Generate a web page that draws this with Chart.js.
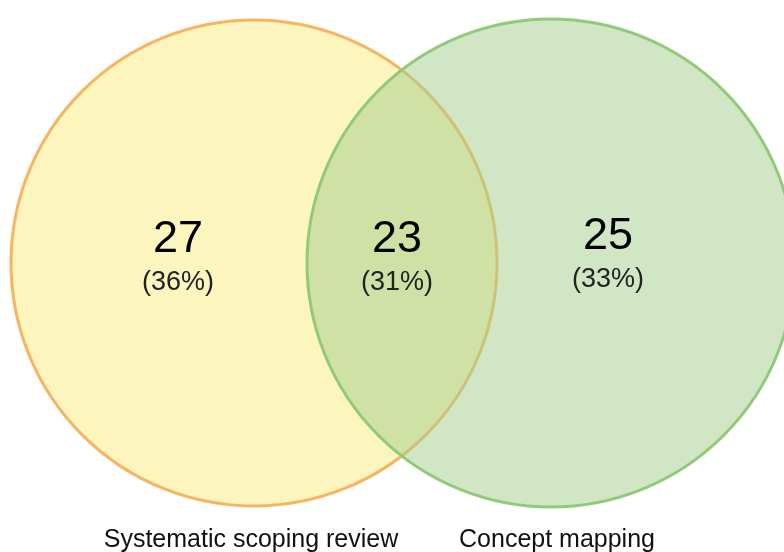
<!DOCTYPE html>
<html>
<head>
<meta charset="utf-8">
<title>Venn</title>
<script src="https://cdn.jsdelivr.net/npm/chart.js@4"></script>
<style>
  html, body { margin: 0; padding: 0; background: #fff; }
  #wrap { width: 784px; height: 552px; position: relative; }
</style>
</head>
<body>
<div id="wrap"><canvas id="venn"></canvas></div>
<script>
// data
const setNames = ['Systematic scoping review', 'Concept mapping'];
const regionCounts = [27, 23, 25];          // left only, both, right only
const regionPercents = ['(36%)', '(31%)', '(33%)'];

// layout (pixel-like units on hidden linear axes)
const circleX = [254, 551];
const circleY = [263, 263];
const circleR = [243, 244];
const regionX = [178, 397, 608];
const regionY = [240, 240, 237];
const nameX = [251, 557];
const nameY = 540;

const vennText = {
  id: 'vennText',
  afterDatasetsDraw(chart) {
    const ctx = chart.ctx, sx = chart.scales.x, sy = chart.scales.y;
    ctx.save();
    ctx.textAlign = 'center';
    ctx.textBaseline = 'middle';
    regionCounts.forEach((c, i) => {
      const x = sx.getPixelForValue(regionX[i]);
      const y = sy.getPixelForValue(regionY[i]);
      ctx.fillStyle = '#000';
      ctx.font = '45px "Liberation Sans", Arial, sans-serif';
      ctx.fillText(String(c), x, y);
      ctx.fillStyle = '#222';
      ctx.font = '27px "Liberation Sans", Arial, sans-serif';
      ctx.fillText(regionPercents[i], x, y + 43);
    });
    ctx.fillStyle = '#111';
    ctx.font = '25px "Liberation Sans", Arial, sans-serif';
    setNames.forEach((n, i) => {
      ctx.fillText(n, sx.getPixelForValue(nameX[i]), sy.getPixelForValue(nameY));
    });
    ctx.restore();
  }
};

new Chart(document.getElementById('venn').getContext('2d'), {
  type: 'bubble',
  data: {
    datasets: [{
      data: setNames.map((n, i) => ({ x: circleX[i], y: circleY[i], r: circleR[i] })),
      backgroundColor: ['rgb(253,245,190)', 'rgba(165,207,142,0.52)'],
      borderColor: ['rgba(249,176,90,0.95)', 'rgba(140,200,115,0.95)'],
      borderWidth: 3,
      clip: false
    }]
  },
  options: {
    responsive: true,
    maintainAspectRatio: false,
    animation: false,
    events: [],
    layout: { padding: 0, autoPadding: false },
    plugins: { legend: { display: false }, tooltip: { enabled: false } },
    scales: {
      x: { type: 'linear', min: 0, max: 784, display: false },
      y: { type: 'linear', min: 0, max: 552, reverse: true, display: false }
    }
  },
  plugins: [vennText]
});
</script>
</body>
</html>
